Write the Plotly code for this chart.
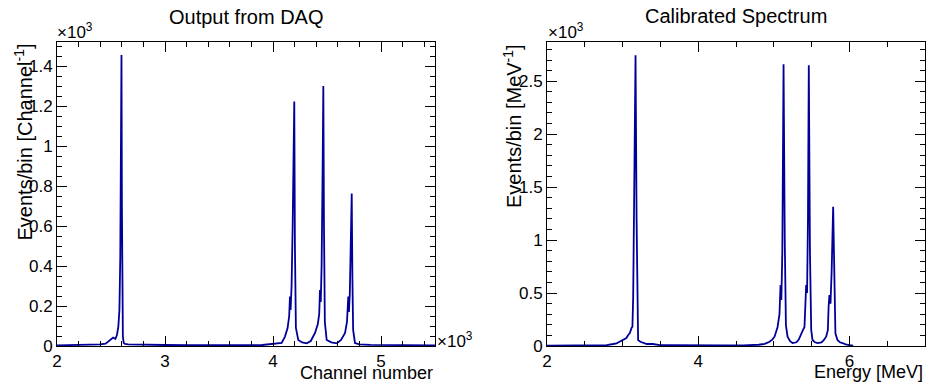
import plotly.graph_objects as go

# ---- Data ----
# Left panel: raw DAQ output (channel number vs events/bin)
channel = [2000, 2100, 2200, 2300, 2400, 2450, 2480, 2500, 2520, 2540, 2555, 2568, 2578, 2586, 2592,
           2597, 2601, 2605, 2610, 2618, 2630, 2660, 2700, 2800, 2900, 3000, 3200, 3400, 3600, 3800,
           3900, 3980, 4040, 4080, 4111, 4135, 4150, 4157, 4163, 4172, 4182, 4190, 4197, 4203, 4212,
           4234, 4270, 4312, 4350, 4389, 4415, 4428, 4435, 4442, 4450, 4458, 4466, 4472, 4480, 4497,
           4540, 4590, 4630, 4667, 4685, 4697, 4703, 4711, 4719, 4729, 4735, 4742, 4759, 4800, 4900,
           5000, 5200, 5400, 5500]
counts_daq = [3, 4, 5, 6, 8, 12, 25, 38, 42, 35, 55, 97, 180, 450, 1000,
              1455, 700, 150, 45, 15, 10, 8, 8, 6, 8, 5, 4, 3, 3, 4,
              5, 8, 12, 15, 47, 90, 150, 247, 180, 300, 600, 900, 1222, 500, 90,
              30, 18, 13, 25, 65, 110, 160, 280, 220, 400, 800, 1300, 600, 120, 30,
              18, 13, 30, 65, 120, 247, 170, 260, 450, 763, 350, 80, 15, 8, 6,
              5, 4, 3, 3]

# Right panel: calibrated spectrum (energy in MeV vs events/bin per MeV)
energy = [2.0, 2.2, 2.4, 2.6, 2.7, 2.79, 2.875, 2.92, 2.96, 3.007, 3.05, 3.074, 3.096, 3.118, 3.13,
          3.14, 3.155, 3.171, 3.185, 3.195, 3.205, 3.235, 3.27, 3.32, 3.40, 3.49, 3.6, 3.8, 4.0, 4.2,
          4.4, 4.6, 4.7, 4.8, 4.88, 4.944, 4.98, 5.01, 5.05, 5.075, 5.089, 5.1, 5.113, 5.129, 5.145,
          5.16, 5.182, 5.215, 5.248, 5.3, 5.33, 5.362, 5.385, 5.406, 5.418, 5.428, 5.44, 5.452, 5.463,
          5.478, 5.495, 5.512, 5.545, 5.578, 5.63, 5.66, 5.692, 5.715, 5.725, 5.736, 5.75, 5.765, 5.785,
          5.8, 5.815, 5.842, 5.875, 5.908, 5.95, 6.0, 6.05]
counts_cal = [3, 3, 4, 5, 6, 9, 19, 25, 40, 57, 75, 104, 122, 170, 182,
              465, 1400, 2745, 1200, 200, 57, 40, 31, 19, 19, 9, 8, 6, 6, 5,
              5, 6, 8, 12, 20, 40, 60, 88, 180, 300, 575, 434, 900, 2660, 1000,
              200, 88, 45, 28, 35, 60, 120, 150, 180, 350, 575, 500, 1200, 2650,
              900, 150, 57, 35, 28, 35, 55, 88, 150, 370, 480, 400, 700, 1314,
              500, 120, 57, 35, 28, 15, 8, 3]

left_xticks = [2000, 3000, 4000, 5000]
left_xtext = ["2", "3", "4", "5"]
left_yticks = [0, 200, 400, 600, 800, 1000, 1200, 1400]
left_ytext = ["0", "0.2", "0.4", "0.6", "0.8", "1", "1.2", "1.4"]
right_yticks = [0, 500, 1000, 1500, 2000, 2500]
right_ytext = ["0", "0.5", "1", "1.5", "2", "2.5"]

W, H = 928, 385
FONT = "Liberation Sans, Arial, Helvetica, sans-serif"
LINE = "#000099"

fig = go.Figure()
fig.add_trace(go.Scatter(x=channel, y=counts_daq, mode="lines",
                         line=dict(color=LINE, width=1.8), xaxis="x", yaxis="y",
                         showlegend=False))
fig.add_trace(go.Scatter(x=energy, y=counts_cal, mode="lines",
                         line=dict(color=LINE, width=1.8), xaxis="x2", yaxis="y2",
                         showlegend=False))

def px_x(p):
    return p / W

def px_y(p):
    return 1 - p / H

common = dict(showline=True, linecolor="black", linewidth=1, mirror="allticks",
              ticks="inside", ticklen=10, tickwidth=1, tickcolor="black",
              showgrid=False, zeroline=False, automargin=False,
              tickfont=dict(family=FONT, size=17, color="black"))

def minor(d):
    return dict(ticks="inside", ticklen=5, tickwidth=1, tickcolor="black", dtick=d, showgrid=False)

ydom = [px_y(346), px_y(42)]
fig.update_layout(
    width=W, height=H, margin=dict(l=0, r=0, t=0, b=0, autoexpand=False),
    paper_bgcolor="white", plot_bgcolor="white",
    font=dict(family=FONT, color="black"),
    xaxis=dict(domain=[px_x(57), px_x(435)], range=[2000, 5500], anchor="y",
               tickmode="array", tickvals=left_xticks, ticktext=left_xtext,
               minor=dict(minor(200), tick0=2000), **common),
    yaxis=dict(domain=ydom, range=[0, 1520], anchor="x",
               tickmode="array", tickvals=left_yticks, ticktext=left_ytext,
               minor=dict(minor(50), tick0=0), **common),
    xaxis2=dict(domain=[px_x(547), px_x(925)], range=[2, 7], anchor="y2",
                tick0=2, dtick=2, minor=dict(minor(0.5), tick0=2), **common),
    yaxis2=dict(domain=ydom, range=[0, 2870], anchor="x2",
                tickmode="array", tickvals=right_yticks, ticktext=right_ytext,
                minor=dict(minor(100), tick0=0), **common),
)

def ann(text, x, y, xanchor="center", yanchor="middle", size=18, angle=0):
    fig.add_annotation(text=text, x=px_x(x), y=px_y(y), xref="paper", yref="paper",
                       xanchor=xanchor, yanchor=yanchor, showarrow=False,
                       textangle=angle, font=dict(family=FONT, size=size, color="black"))

ann("Output from DAQ", 246, 17, size=20)
ann("Calibrated Spectrum", 736, 16, size=20)
ann("×10<sup>3</sup>", 55, 31, xanchor="left", size=17)
ann("×10<sup>3</sup>", 546, 31, xanchor="left", size=17)
ann("×10<sup>3</sup>", 435, 340, xanchor="left", size=17)
ann("Channel number", 435, 385, xanchor="right", yanchor="bottom")
ann("Energy [MeV]", 925, 384, xanchor="right", yanchor="bottom")
ann("Events/bin [Channel<sup>-1</sup>]", 23, 42, yanchor="top", angle=-90, size=20)
ann("Events/bin [MeV<sup>-1</sup>]", 512, 42, yanchor="top", angle=-90, size=20)

fig.write_html("out.html")
